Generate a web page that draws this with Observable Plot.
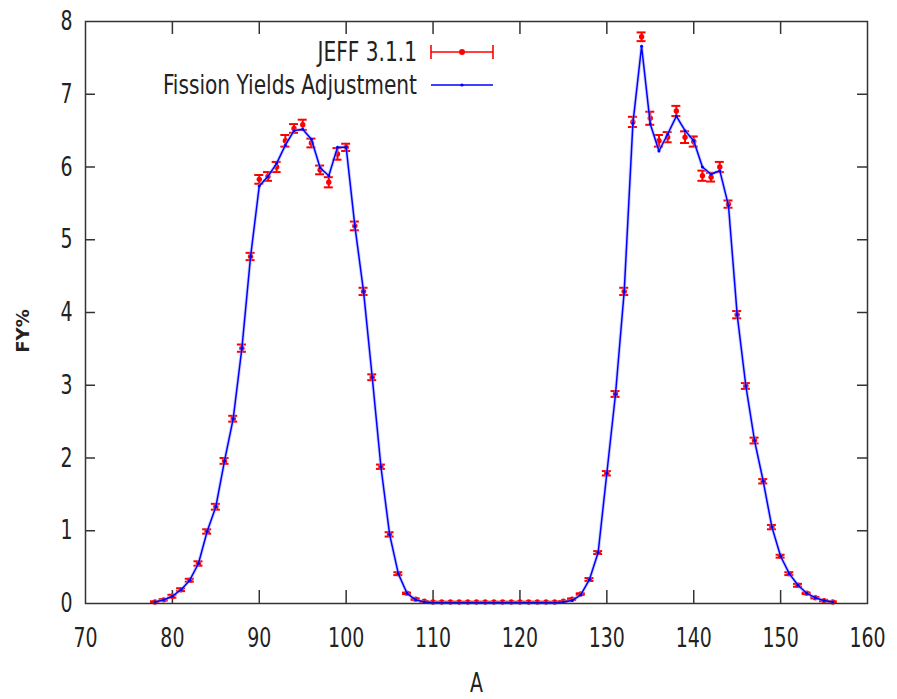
<!DOCTYPE html>
<html><head><meta charset="utf-8">
<script src="https://cdn.jsdelivr.net/npm/d3@7"></script>
<script src="https://cdn.jsdelivr.net/npm/@observablehq/plot@0.6"></script>
<style>
body{margin:0;background:#fff;}
#wrap{position:relative;width:897px;height:699px;overflow:hidden;}
#legend{position:absolute;left:0;top:0;pointer-events:none;}
</style></head><body><div id="wrap"></div>
<script>
const massNumbers = [78,79,80,81,82,83,84,85,86,87,
  88,89,90,91,92,93,94,95,96,97,
  98,99,100,101,102,103,104,105,106,107,
  108,109,110,111,112,113,114,115,116,117,
  118,119,120,121,122,123,124,125,126,127,
  128,129,130,131,132,133,134,135,136,137,
  138,139,140,141,142,143,144,145,146,147,
  148,149,150,151,152,153,154,155,156];
const jeffYield = [0.02,0.05,0.10,0.19,0.32,0.55,0.99,1.33,1.96,2.54,
  3.51,4.77,5.83,5.87,6.00,6.36,6.53,6.58,6.33,5.96,
  5.79,6.18,6.27,5.19,4.29,3.11,1.88,0.95,0.41,0.14,
  0.06,0.03,0.02,0.02,0.02,0.02,0.02,0.02,0.02,0.02,
  0.02,0.02,0.02,0.02,0.02,0.02,0.02,0.03,0.06,0.13,
  0.33,0.70,1.79,2.88,4.29,6.62,7.79,6.67,6.36,6.41,
  6.77,6.41,6.35,5.88,5.86,6.00,5.49,3.97,2.99,2.24,
  1.68,1.05,0.65,0.41,0.25,0.14,0.08,0.04,0.02];
const jeffError = [0.01,0.01,0.02,0.02,0.02,0.03,0.03,0.04,0.04,0.04,
  0.05,0.05,0.06,0.06,0.07,0.08,0.06,0.07,0.06,0.06,
  0.07,0.08,0.05,0.06,0.05,0.04,0.03,0.03,0.02,0.01,
  0.01,0.005,0.005,0.005,0.005,0.005,0.005,0.005,0.005,0.005,
  0.005,0.005,0.005,0.005,0.005,0.005,0.005,0.005,0.01,0.01,
  0.02,0.02,0.03,0.04,0.05,0.07,0.06,0.09,0.08,0.07,
  0.07,0.08,0.07,0.07,0.06,0.07,0.05,0.05,0.04,0.04,
  0.03,0.03,0.02,0.02,0.02,0.01,0.01,0.01,0.01];
const adjustedYield = [0.02,0.05,0.10,0.19,0.32,0.55,0.99,1.33,1.96,2.54,
  3.51,4.77,5.74,5.87,6.05,6.30,6.50,6.52,6.38,5.99,
  5.88,6.27,6.27,5.19,4.29,3.11,1.88,0.95,0.41,0.14,
  0.05,0.02,0.01,0.01,0.01,0.01,0.01,0.01,0.01,0.01,
  0.01,0.01,0.01,0.01,0.01,0.01,0.01,0.02,0.04,0.12,
  0.33,0.70,1.79,2.88,4.29,6.60,7.66,6.59,6.22,6.45,
  6.70,6.50,6.36,6.00,5.90,5.95,5.47,3.97,2.99,2.24,
  1.68,1.05,0.65,0.41,0.25,0.14,0.08,0.04,0.02];
const xTicks = [70,80,90,100,110,120,130,140,150,160];
const yTicks = [0,1,2,3,4,5,6,7,8];
const seriesLabels = ["JEFF 3.1.1", "Fission Yields Adjustment"];
const seriesColors = ["#ff0000", "#0000ff"];
const xTitle = "A";
const yTitle = "FY%";

const xDomain = [xTicks[0], xTicks[xTicks.length-1]];
const yDomain = [yTicks[0], yTicks[yTicks.length-1]];
const jeff = massNumbers.map((a,i)=>({a, y: jeffYield[i], lo: jeffYield[i]-jeffError[i], hi: jeffYield[i]+jeffError[i]}));
const adj = massNumbers.map((a,i)=>({a, y: adjustedYield[i]}));
const innerX = xTicks.slice(1,-1), innerY = yTicks.slice(1,-1);

const FONT = '"Liberation Sans Narrow","DejaVu Sans Condensed",sans-serif';
const INK = "#222";
const AX = "#333";

const chart = Plot.plot({
  width: 897, height: 699,
  marginLeft: 85, marginRight: 30, marginTop: 21, marginBottom: 96,
  style: {fontFamily: FONT, fontSize: "27px", color: INK, background: "#fff", overflow: "visible"},
  x: {domain: xDomain, ticks: xTicks},
  y: {domain: yDomain, ticks: yTicks},
  marks: [
    Plot.ruleY(innerY, {y: d=>d, x1: xDomain[0], x2: xDomain[0], insetRight: -10, stroke: AX, strokeWidth: 1.5}),
    Plot.ruleY(innerY, {y: d=>d, x1: xDomain[1], x2: xDomain[1], insetLeft: -10, stroke: AX, strokeWidth: 1.5}),
    Plot.ruleX(innerX, {x: d=>d, y1: yDomain[0], y2: yDomain[0], insetTop: -13, stroke: AX, strokeWidth: 1.5}),
    Plot.ruleX(innerX, {x: d=>d, y1: yDomain[1], y2: yDomain[1], insetBottom: -13, stroke: AX, strokeWidth: 1.5}),
    Plot.axisY({ticks: yTicks, tickSize: 0, tickPadding: 13, label: null, fontSize: 27}),
    Plot.axisX({ticks: xTicks, tickSize: 0, tickPadding: 24, label: null, fontSize: 27}),
    Plot.ruleX(jeff, {x: "a", y1: "lo", y2: "hi", stroke: seriesColors[0], strokeWidth: 2}),
    Plot.ruleY(jeff, {y: "lo", x1: "a", x2: "a", insetLeft: -4.5, insetRight: -4.5, stroke: seriesColors[0], strokeWidth: 2}),
    Plot.ruleY(jeff, {y: "hi", x1: "a", x2: "a", insetLeft: -4.5, insetRight: -4.5, stroke: seriesColors[0], strokeWidth: 2}),
    Plot.dot(jeff, {x: "a", y: "y", r: 2.7, fill: seriesColors[0], stroke: "none"}),
    Plot.line(adj, {x: "a", y: "y", stroke: "#9aa0ff", strokeWidth: 3.4, strokeOpacity: 0.5}),
    Plot.line(adj, {x: "a", y: "y", stroke: seriesColors[1], strokeWidth: 1.5}),
    Plot.dot(adj, {x: "a", y: "y", r: 1.5, fill: seriesColors[1], stroke: "none"}),
    Plot.frame({stroke: AX, strokeWidth: 1.5}),
    Plot.text([xTitle], {frameAnchor: "bottom", dy: 88, fontSize: 27, fill: INK})
  ]
});
const wrap = document.getElementById("wrap");
wrap.appendChild(chart);

// squeeze text horizontally around its anchor to mimic the narrow face of the original
function squeeze(el, s) {
  const b = el.getBBox();
  const anchor = el.getAttribute("text-anchor") || (el.closest("[text-anchor]") ? el.closest("[text-anchor]").getAttribute("text-anchor") : "start");
  const ax = anchor === "end" ? b.x + b.width : anchor === "middle" ? b.x + b.width/2 : b.x;
  const t = el.getAttribute("transform") || "";
  el.setAttribute("transform", `${t} translate(${ax},0) scale(${s},1) translate(${-ax},0)`);
}
chart.querySelectorAll("text").forEach(el => squeeze(el, 0.78));

// legend overlay and y title
const lg = d3.select(wrap).append("svg").attr("id","legend").attr("width",897).attr("height",699)
  .style("font-family", FONT).style("font-size","27px");
const rowsY = [52, 85];
seriesLabels.forEach((lab, i) => {
  const g = lg.append("g").attr("transform", `translate(0,${rowsY[i]})`);
  const t = g.append("text").attr("x", 417).attr("y", 0).attr("dy","0.35em").attr("text-anchor","end").attr("fill", INK).text(lab);
  squeeze(t.node(), 0.83);
  g.append("line").attr("x1",431).attr("x2",493).attr("y1",0).attr("y2",0).attr("stroke", seriesColors[i]).attr("stroke-width", 1.6);
  if (i === 0) {
    g.append("line").attr("x1",431).attr("x2",431).attr("y1",-7).attr("y2",7).attr("stroke", seriesColors[i]).attr("stroke-width", 1.6);
    g.append("line").attr("x1",493).attr("x2",493).attr("y1",-7).attr("y2",7).attr("stroke", seriesColors[i]).attr("stroke-width", 1.6);
    g.append("circle").attr("cx",462).attr("cy",0).attr("r",3).attr("fill", seriesColors[i]);
  } else {
    g.append("circle").attr("cx",462).attr("cy",0).attr("r",1.6).attr("fill", seriesColors[i]);
  }
});
lg.append("text").attr("transform","translate(23,331) rotate(-90)").attr("text-anchor","middle").attr("dy","0.35em")
  .style("font-family",'"DejaVu Sans",sans-serif').style("font-size","18px").style("font-weight","bold").attr("fill", INK).text(yTitle);
</script>
</body></html>
